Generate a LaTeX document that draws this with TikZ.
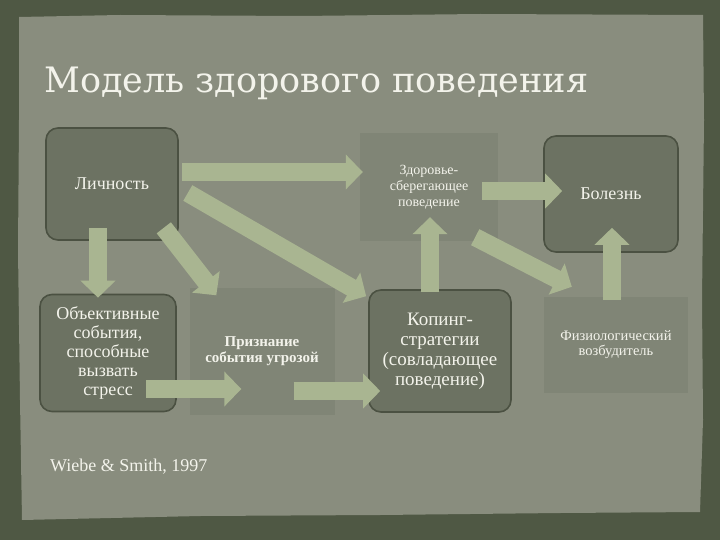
\documentclass[tikz,border=0pt]{standalone}
\usepackage{fontspec}
\setmainfont{Liberation Serif}
\newfontfamily\titlefont{DejaVu Serif}
\usetikzlibrary{arrows.meta}

\definecolor{frame}{HTML}{4F5844}
\definecolor{paper}{HTML}{898D7E}
\definecolor{boxfill}{HTML}{6C7262}
\definecolor{boxedge}{HTML}{4B5142}
\definecolor{faintfill}{HTML}{808576}
\definecolor{arrowfill}{HTML}{A9B591}
\definecolor{labeltext}{HTML}{F3F3EB}

\tikzset{
  stagebox/.style={draw=boxedge, line width=1.6pt, fill=boxfill, rounded corners=12pt,
    text=labeltext, align=center, inner sep=2pt},
  faintbox/.style={fill=faintfill, text=labeltext, align=center, inner sep=2pt},
  bigarrow/.style={draw=arrowfill, line width=18pt,
    -{Triangle[length=17pt,width=34pt]}}
}

\begin{document}
\begin{tikzpicture}[x=1pt,y=-1pt]
    % Background and paper
    \fill[frame] (0,0) rectangle (720,540);
    \fill[paper] (19,17) -- (120,15) -- (300,16) -- (480,14) -- (703,15) -- (704,120)
      -- (702,300) -- (703,420) -- (700,512) -- (560,513) -- (380,515) -- (200,516)
      -- (22,520) -- (20,400) -- (18,250) -- (19,120) -- cycle;
    \useasboundingbox (0,0) rectangle (720,540);

    % Title
    \node[anchor=base west, text=labeltext, font=\titlefont\fontsize{35}{40}\selectfont, inner sep=0pt]
      (title) at (44,93) {Модель здорового поведения};

    % Boxes
    \node[stagebox, minimum width=132pt, minimum height=112pt, font=\fontsize{18}{19}\selectfont]
      (lich) at (112,184) {Личность};
    \node[stagebox, minimum width=136pt, minimum height=117pt, font=\fontsize{18}{19}\selectfont]
      (obj) at (108,353) {Объективные\\события,\\способные\\вызвать\\стресс};
    \node[faintbox, minimum width=145pt, minimum height=127pt, font=\bfseries\fontsize{15}{16}\selectfont]
      (priz) at (262,351) {Признание\\события угрозой};
    \node[stagebox, minimum width=142pt, minimum height=122pt, font=\fontsize{19}{20}\selectfont]
      (kop) at (440,351) {Копинг-\\стратегии\\(совладающее\\поведение)};
    \node[faintbox, minimum width=138pt, minimum height=108pt, font=\fontsize{14}{16}\selectfont]
      (zdor) at (429,187) {Здоровье-\\сберегающее\\поведение};
    \node[stagebox, minimum width=134pt, minimum height=116pt, font=\fontsize{18}{19}\selectfont]
      (bol) at (611,194) {Болезнь};
    \node[faintbox, minimum width=144pt, minimum height=96pt, font=\fontsize{14.5}{15}\selectfont]
      (fiz) at (616,345) {Физиологический\\возбудитель};

    % Draw arrows
    \draw[bigarrow] ([xshift=3pt,yshift=12pt]lich.east) -- ([xshift=3pt,yshift=15pt]zdor.west);
    \draw[bigarrow] ([xshift=9pt,yshift=-9pt]lich.east) -- ([xshift=-2pt,yshift=-7pt]kop.north west);
    \draw[bigarrow] ([xshift=-15pt,yshift=13pt]lich.south east) -- ([xshift=27pt,yshift=-8pt]priz.north west);
    \draw[bigarrow] ([xshift=-14pt,yshift=13pt]lich.south) -- ([xshift=-10pt,yshift=-4pt]obj.north);
    \draw[bigarrow] ([xshift=-31pt,yshift=-36pt]obj.east) -- ([xshift=52pt,yshift=-38pt]priz.west);
    \draw[bigarrow] ([xshift=-41pt,yshift=-40pt]priz.east) -- ([xshift=12pt,yshift=-40pt]kop.west);
    \draw[bigarrow] ([xshift=-10pt,yshift=-3pt]kop.north) -- ([xshift=1pt,yshift=24pt]zdor.south);
    \draw[bigarrow] ([xshift=-16pt,yshift=-4pt]zdor.east) -- ([xshift=19pt,yshift=3pt]bol.west);
    \draw[bigarrow] ([xshift=-23pt,yshift=4pt]zdor.south east) -- ([xshift=28pt,yshift=10pt]fiz.north west);
    \draw[bigarrow] ([xshift=-4pt,yshift=-3pt]fiz.north) -- ([xshift=1pt,yshift=25pt]bol.south);

    % Reference
    \node[anchor=base west, text=labeltext, font=\fontsize{18}{20}\selectfont, inner sep=0pt]
      (ref) at (50,471) {Wiebe \& Smith, 1997};
\end{tikzpicture}
\end{document}
